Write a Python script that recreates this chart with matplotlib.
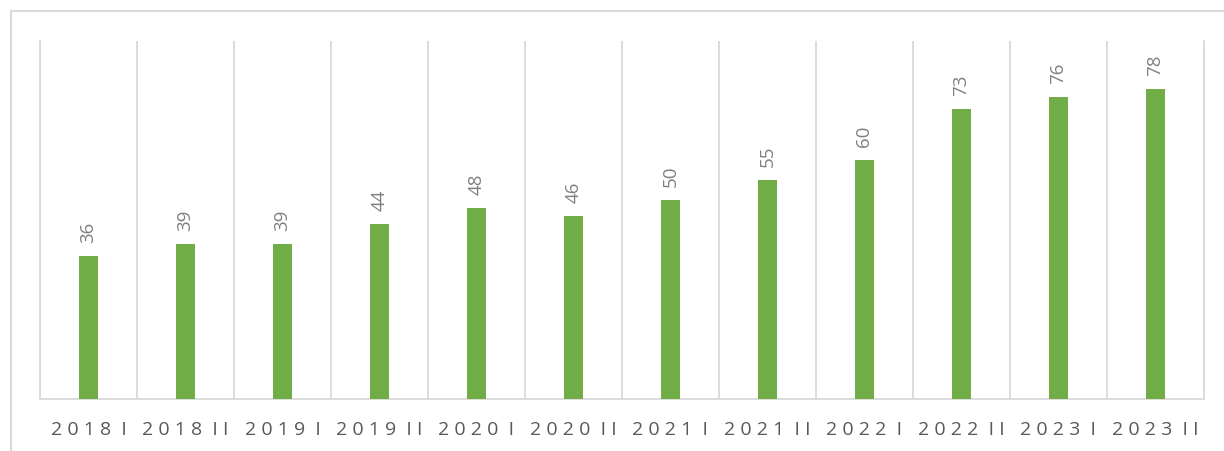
import numpy as np
import matplotlib
matplotlib.use('Agg')
import matplotlib.pyplot as plt
from matplotlib.patches import Rectangle

# half-year periods and values
periods = ['2018 I', '2018 II', '2019 I', '2019 II', '2020 I', '2020 II',
           '2021 I', '2021 II', '2022 I', '2022 II', '2023 I', '2023 II']
values = [36, 39, 39, 44, 48, 46, 50, 55, 60, 73, 76, 78]

bar_color = '#70ad47'
grid_color = '#d9d9d9'
plt.rcParams['font.family'] = ['Open Sans', 'DejaVu Sans']


def spaced(label):
    # imitate the wide letter spacing of the original tick labels
    words = [' '.join(w) for w in label.split(' ')]
    return '  '.join(words)


fig = plt.figure(figsize=(12.24, 4.52), dpi=100)
ax = fig.add_axes([40 / 1224, 1 - 400 / 452, 1164 / 1224, 358 / 452])

x = np.arange(len(periods))
bars = ax.bar(x, values, width=0.19, color=bar_color, zorder=3)

for xi, v in zip(x, values):
    ax.annotate(str(v), (xi, v), xytext=(0, 10), textcoords='offset points',
                rotation=90, ha='center', va='bottom', fontsize=13.5,
                color='#808080')

ax.set_xlim(-0.5, len(periods) - 0.5)
ax.set_ylim(0, 90)
ax.set_yticks([])
ax.set_xticks(x)
ax.set_xticklabels([spaced(p) for p in periods], fontsize=14, color='#595959')
ax.tick_params(axis='x', length=0, pad=15)
ax.set_xticks(np.arange(len(periods) + 1) - 0.5, minor=True)
ax.tick_params(axis='x', which='minor', length=0)
ax.grid(True, which='minor', axis='x', color=grid_color, lw=1.3, zorder=0)

ax.spines['top'].set_visible(False)
for s in ['left', 'right', 'bottom']:
    ax.spines[s].set_color(grid_color)
    ax.spines[s].set_linewidth(1.3)

# outer chart frame
frame = Rectangle((11 / 1224, -0.2), 1.2, 1.2 - 12 / 452, transform=fig.transFigure,
                  fill=False, edgecolor=grid_color, lw=1.5, clip_on=False)
fig.patches.append(frame)

fig.savefig('out.png', dpi=100)
